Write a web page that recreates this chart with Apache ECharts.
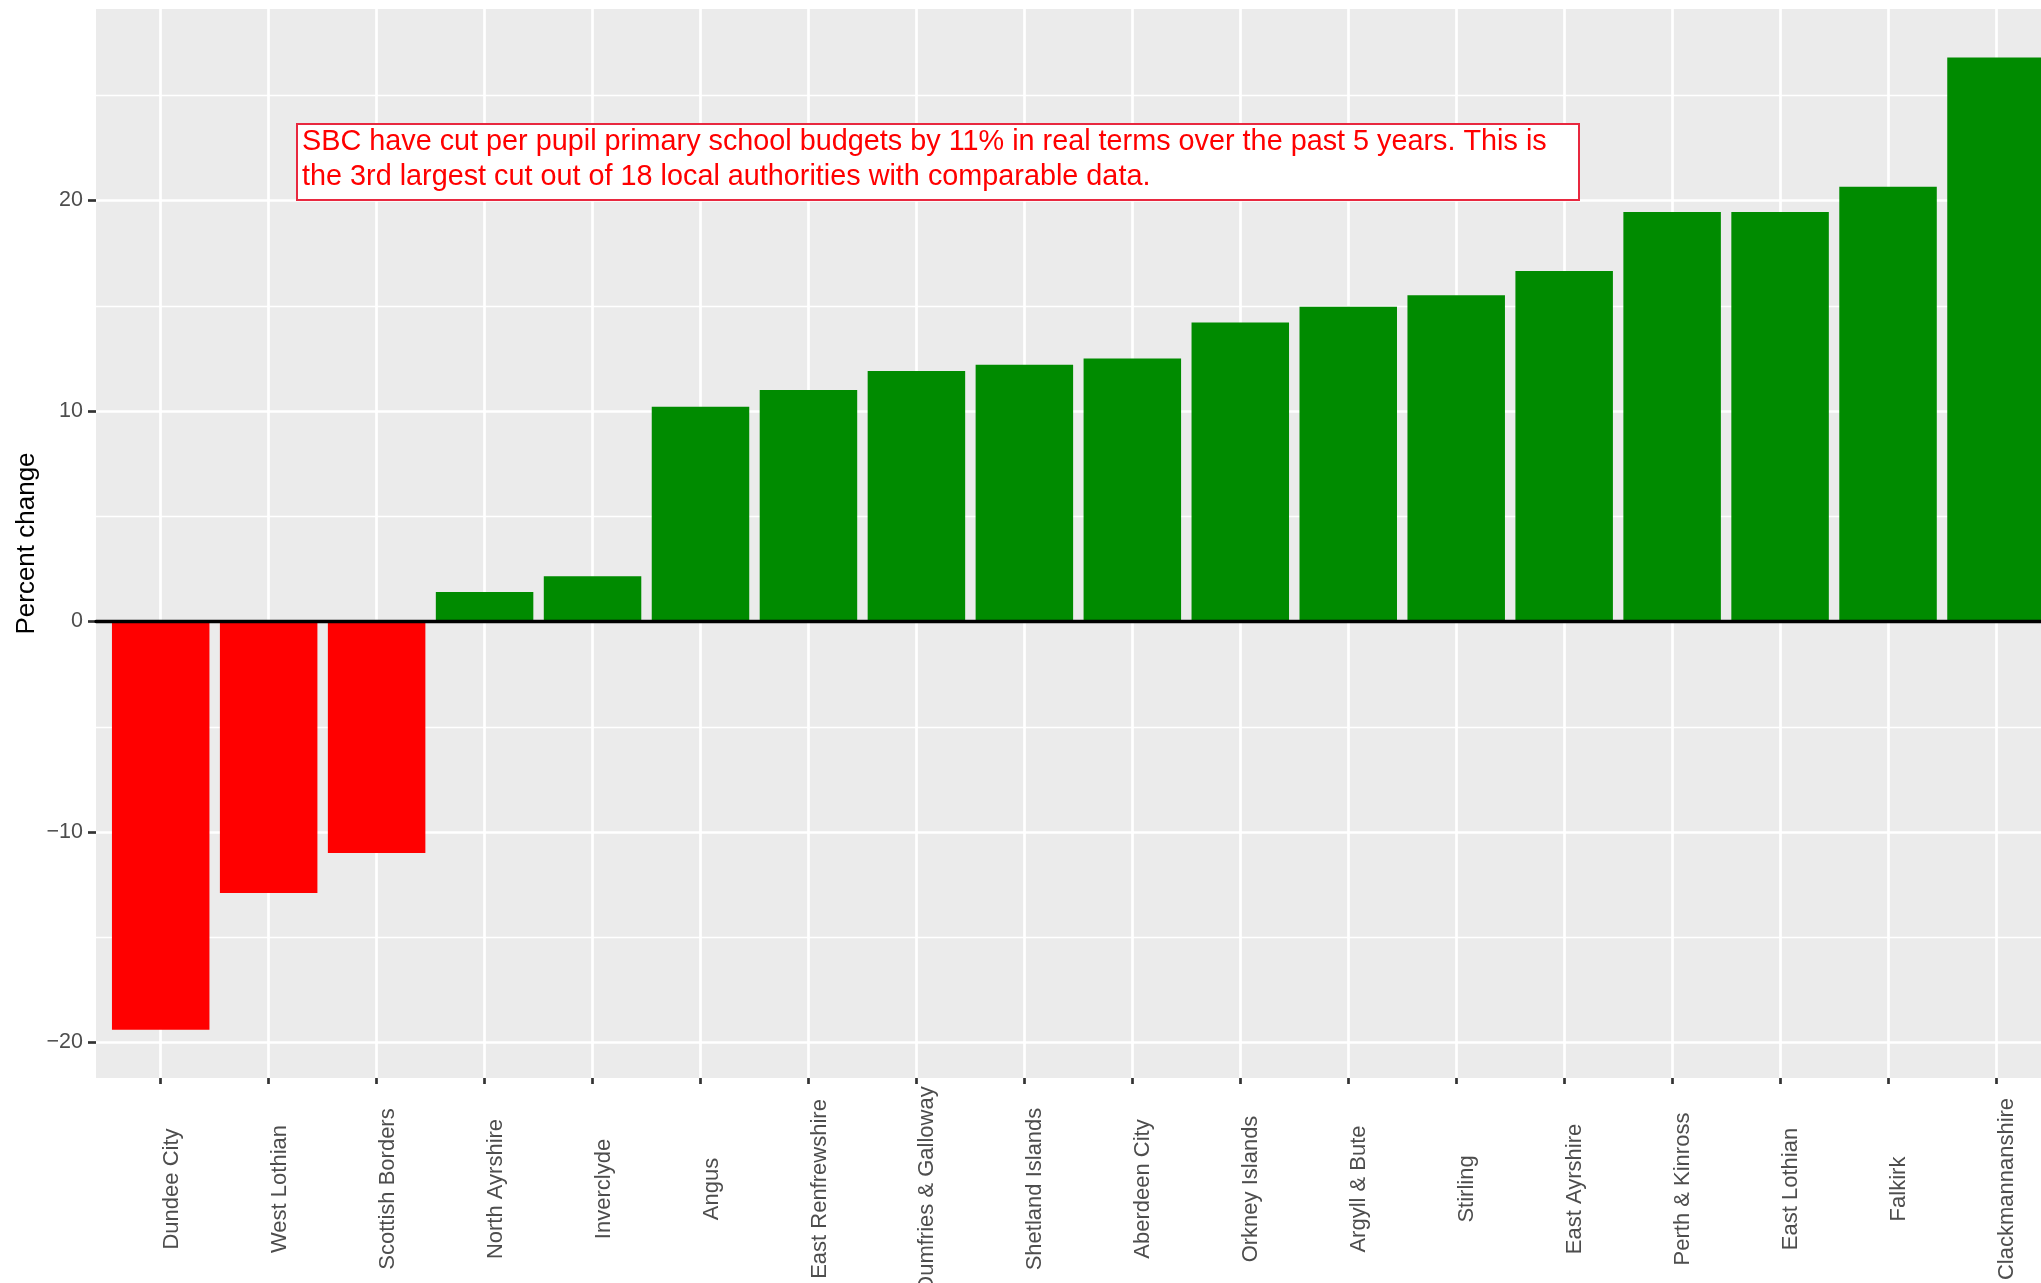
<!DOCTYPE html>
<html>
<head>
<meta charset="utf-8">
<script src="https://cdn.jsdelivr.net/npm/echarts@6/dist/echarts.min.js"></script>
<style>
  html, body { margin: 0; padding: 0; background: #fff; }
  #chart { width: 2041px; height: 1283px; }
</style>
</head>
<body>
<div id="chart"></div>
<script>
  // councils, ordered by change
  var categories = ['Dundee City', 'West Lothian', 'Scottish Borders', 'North Ayrshire', 'Inverclyde',
    'Angus', 'East Renfrewshire', 'Dumfries & Galloway', 'Shetland Islands', 'Aberdeen City',
    'Orkney Islands', 'Argyll & Bute', 'Stirling', 'East Ayrshire', 'Perth & Kinross',
    'East Lothian', 'Falkirk', 'Clackmannanshire'];
  var percentChange = [-19.4, -12.9, -11.0, 1.4, 2.15, 10.2, 11.0, 11.9, 12.2, 12.5,
    14.2, 14.95, 15.5, 16.65, 19.45, 19.45, 20.65, 26.8];
  var note = 'SBC have cut per pupil primary school budgets by 11% in real terms over the past 5 years. This is\n' +
    'the 3rd largest cut out of 18 local authorities with comparable data.';

  var font = 'Liberation Sans, Arial, sans-serif';
  var chart = echarts.init(document.getElementById('chart'));

  var option = {
    animation: false,
    backgroundColor: '#fff',
    title: {
      text: note,
      left: 297,
      top: 124,
      backgroundColor: '#fff',
      borderColor: '#E8283F',
      borderWidth: 2,
      padding: [1, 33, 5, 5],
      textStyle: {
        color: '#FF0000',
        fontFamily: font,
        fontSize: 28.8,
        fontWeight: 'normal',
        lineHeight: 35
      }
    },
    grid: [
      // panel background
      {left: 96, top: 9, right: 0, bottom: 205, show: true, backgroundColor: '#EBEBEB', borderWidth: 0,
        containLabel: false, outerBoundsMode: 'none'},
      // horizontal grid lines, -20..30
      {left: 96, top: -10, right: 0, bottom: 240.5, containLabel: false, outerBoundsMode: 'none'},
      // bars + category axis
      {left: 160.7, top: 9, right: 45, bottom: 205, containLabel: false, outerBoundsMode: 'none'}
    ],
    xAxis: [
      {gridIndex: 0, type: 'value', min: 0, max: 1, show: false},
      {
        gridIndex: 1, type: 'value', min: 0, max: 1, z: 5,
        axisLine: {show: true, onZero: true, lineStyle: {color: '#000', width: 3.3}},
        axisTick: {show: false}, axisLabel: {show: false}, splitLine: {show: false}
      },
      {
        gridIndex: 2, type: 'category', data: categories, boundaryGap: false, position: 'bottom',
        axisLine: {show: false, onZero: false},
        axisTick: {show: true, length: 6, lineStyle: {color: '#333', width: 2.7}},
        axisLabel: {
          interval: 0, rotate: 90, align: 'center', verticalAlign: 'top', margin: 111,
          hideOverlap: false,
          color: '#4D4D4D', fontFamily: font, fontSize: 22
        },
        splitLine: {show: true, interval: 0, lineStyle: {color: '#fff', width: 2.7}}
      }
    ],
    yAxis: [
      {gridIndex: 0, type: 'value', min: 0, max: 1, show: false},
      {
        gridIndex: 1, type: 'value', min: -20, max: 30, interval: 10,
        axisLine: {show: false},
        axisTick: {show: true, length: 8, lineStyle: {color: '#333', width: 2.7}},
        axisLabel: {
          showMaxLabel: false, margin: 13, color: '#4D4D4D', fontFamily: font, fontSize: 21.5,
          formatter: function (v) { return v < 0 ? '\u2212' + Math.abs(v) : String(v); }
        },
        splitLine: {show: true, lineStyle: {color: '#fff', width: 2.7}},
        minorTick: {show: false, splitNumber: 2},
        minorSplitLine: {show: true, lineStyle: {color: '#fff', width: 1.3}}
      },
      {
        gridIndex: 2, type: 'value', min: -21.69, max: 29.1,
        axisLine: {show: false}, axisTick: {show: false}, axisLabel: {show: false},
        splitLine: {show: false},
        name: 'Percent change', nameLocation: 'middle', nameRotate: 90, nameGap: 121,
        nameTextStyle: {color: '#000', fontFamily: font, fontSize: 26}
      }
    ],
    series: [{
      type: 'bar',
      xAxisIndex: 2,
      yAxisIndex: 2,
      data: percentChange,
      barWidth: 97.5,
      clip: false,
      itemStyle: {
        color: function (p) { return p.value < 0 ? '#FF0000' : '#008B00'; }
      }
    }]
  };

  chart.setOption(option);
</script>
</body>
</html>
